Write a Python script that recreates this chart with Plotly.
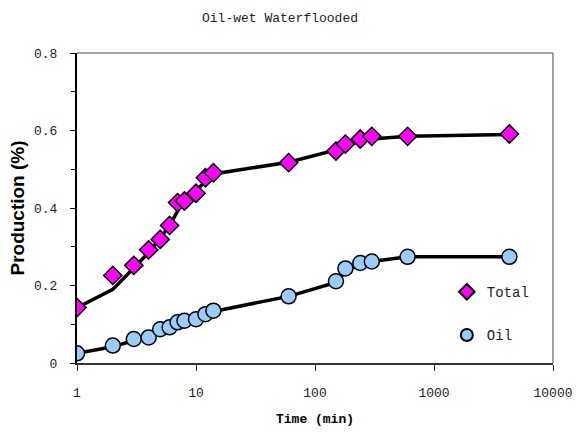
import plotly.graph_objects as go

# ---- data ----
total_time = [1, 2, 3, 4, 5, 6, 7, 8, 10, 12, 14, 60, 150, 180, 240, 300, 600, 4300]
total_prod = [0.143, 0.226, 0.252, 0.292, 0.319, 0.355, 0.414, 0.418, 0.438, 0.478,
              0.491, 0.517, 0.547, 0.565, 0.578, 0.585, 0.585, 0.591]

oil_time = [1, 2, 3, 4, 5, 6, 7, 8, 10, 12, 14, 60, 150, 180, 240, 300, 600, 4300]
oil_prod = [0.025, 0.045, 0.062, 0.066, 0.087, 0.092, 0.105, 0.109, 0.113, 0.126,
            0.135, 0.172, 0.211, 0.244, 0.258, 0.262, 0.274, 0.274]

# fitted (smoothed) curves drawn as black lines
total_fit_time = [1, 2, 3, 4, 5, 6, 7, 8, 10, 12, 14, 60, 150, 180, 240, 300, 600, 4300]
total_fit_prod = [0.143, 0.190, 0.245, 0.285, 0.322, 0.355, 0.392, 0.418, 0.445, 0.470,
                  0.488, 0.518, 0.550, 0.562, 0.572, 0.578, 0.585, 0.590]

oil_fit_time = [1, 2, 3, 4, 5, 6, 7, 8, 10, 12, 14, 60, 150, 180, 240, 300, 600, 4300]
oil_fit_prod = [0.025, 0.042, 0.058, 0.068, 0.085, 0.093, 0.102, 0.108, 0.115, 0.125,
                0.133, 0.172, 0.208, 0.235, 0.255, 0.262, 0.274, 0.274]

x_tickvals = [1, 10, 100, 1000, 10000]
x_ticktext = ["1", "10", "100", "1000", "10000"]
y_tickvals = [0, 0.2, 0.4, 0.6, 0.8]
y_ticktext = ["0", "0.2", "0.4", "0.6", "0.8"]

MONO = "Liberation Mono, Courier New, monospace"

fig = go.Figure()

fig.add_trace(go.Scatter(x=total_fit_time, y=total_fit_prod, mode="lines",
                         line=dict(color="black", width=3.5), showlegend=False,
                         hoverinfo="skip"))
fig.add_trace(go.Scatter(x=oil_fit_time, y=oil_fit_prod, mode="lines",
                         line=dict(color="black", width=3.5), showlegend=False,
                         hoverinfo="skip"))

fig.add_trace(go.Scatter(x=total_time, y=total_prod, mode="markers", name="Total",
                         legendgroup="a",
                         marker=dict(symbol="diamond", size=14, color="#FF00FF",
                                     line=dict(color="black", width=1.5))))
fig.add_trace(go.Scatter(x=oil_time, y=oil_prod, mode="markers", name="Oil",
                         legendgroup="b",
                         marker=dict(symbol="circle", size=15, color="#99CCFF",
                                     line=dict(color="black", width=1.5))))

fig.update_layout(
    width=580, height=432,
    margin=dict(l=77, r=27, t=53, b=69, autoexpand=False),
    paper_bgcolor="white", plot_bgcolor="white",
    title=dict(text="Oil-wet Waterflooded", x=280 / 580, xref="container",
               xanchor="center", y=1 - 17 / 432, yref="container", yanchor="middle",
               font=dict(family=MONO, size=13, color="#222")),
    legend=dict(x=0.777, y=0.28, xanchor="left", yanchor="top",
                font=dict(family=MONO, size=14, color="#222"),
                bgcolor="rgba(0,0,0,0)", tracegroupgap=22, itemsizing="constant"),
    xaxis=dict(type="log", range=[0, 4], tickvals=x_tickvals, ticktext=x_ticktext,
               automargin=False,
               showgrid=False, zeroline=False, showline=True, linecolor="#333",
               linewidth=2, ticks="outside", ticklen=6, tickcolor="#333",
               tickfont=dict(family=MONO, size=13, color="#222"),
               ticklabelstandoff=10,
               title=dict(text="<b>Time (min)</b>", standoff=14,
                          font=dict(family=MONO, size=13, color="black"))),
    yaxis=dict(range=[0, 0.8], tickvals=y_tickvals, ticktext=y_ticktext,
               automargin=False,
               showgrid=False, zeroline=False, showline=True, linecolor="black",
               linewidth=2, ticks="outside", ticklen=5, tickcolor="black",
               minor=dict(dtick=0.1, ticks="outside", ticklen=4, tickcolor="black"),
               tickfont=dict(family=MONO, size=13, color="#222"),
               ticklabelstandoff=10,
               title=dict(text="<b>Production (%)</b>", standoff=4,
                          font=dict(family="Liberation Sans, Arial, sans-serif",
                                    size=19, color="black"))),
    shapes=[
        dict(type="line", xref="paper", yref="paper", x0=0, x1=1, y0=1, y1=1,
             line=dict(color="#808080", width=1.5)),
        dict(type="line", xref="paper", yref="paper", x0=1, x1=1, y0=0, y1=1,
             line=dict(color="#808080", width=1.5)),
    ],
)

fig.write_html("out.html")
